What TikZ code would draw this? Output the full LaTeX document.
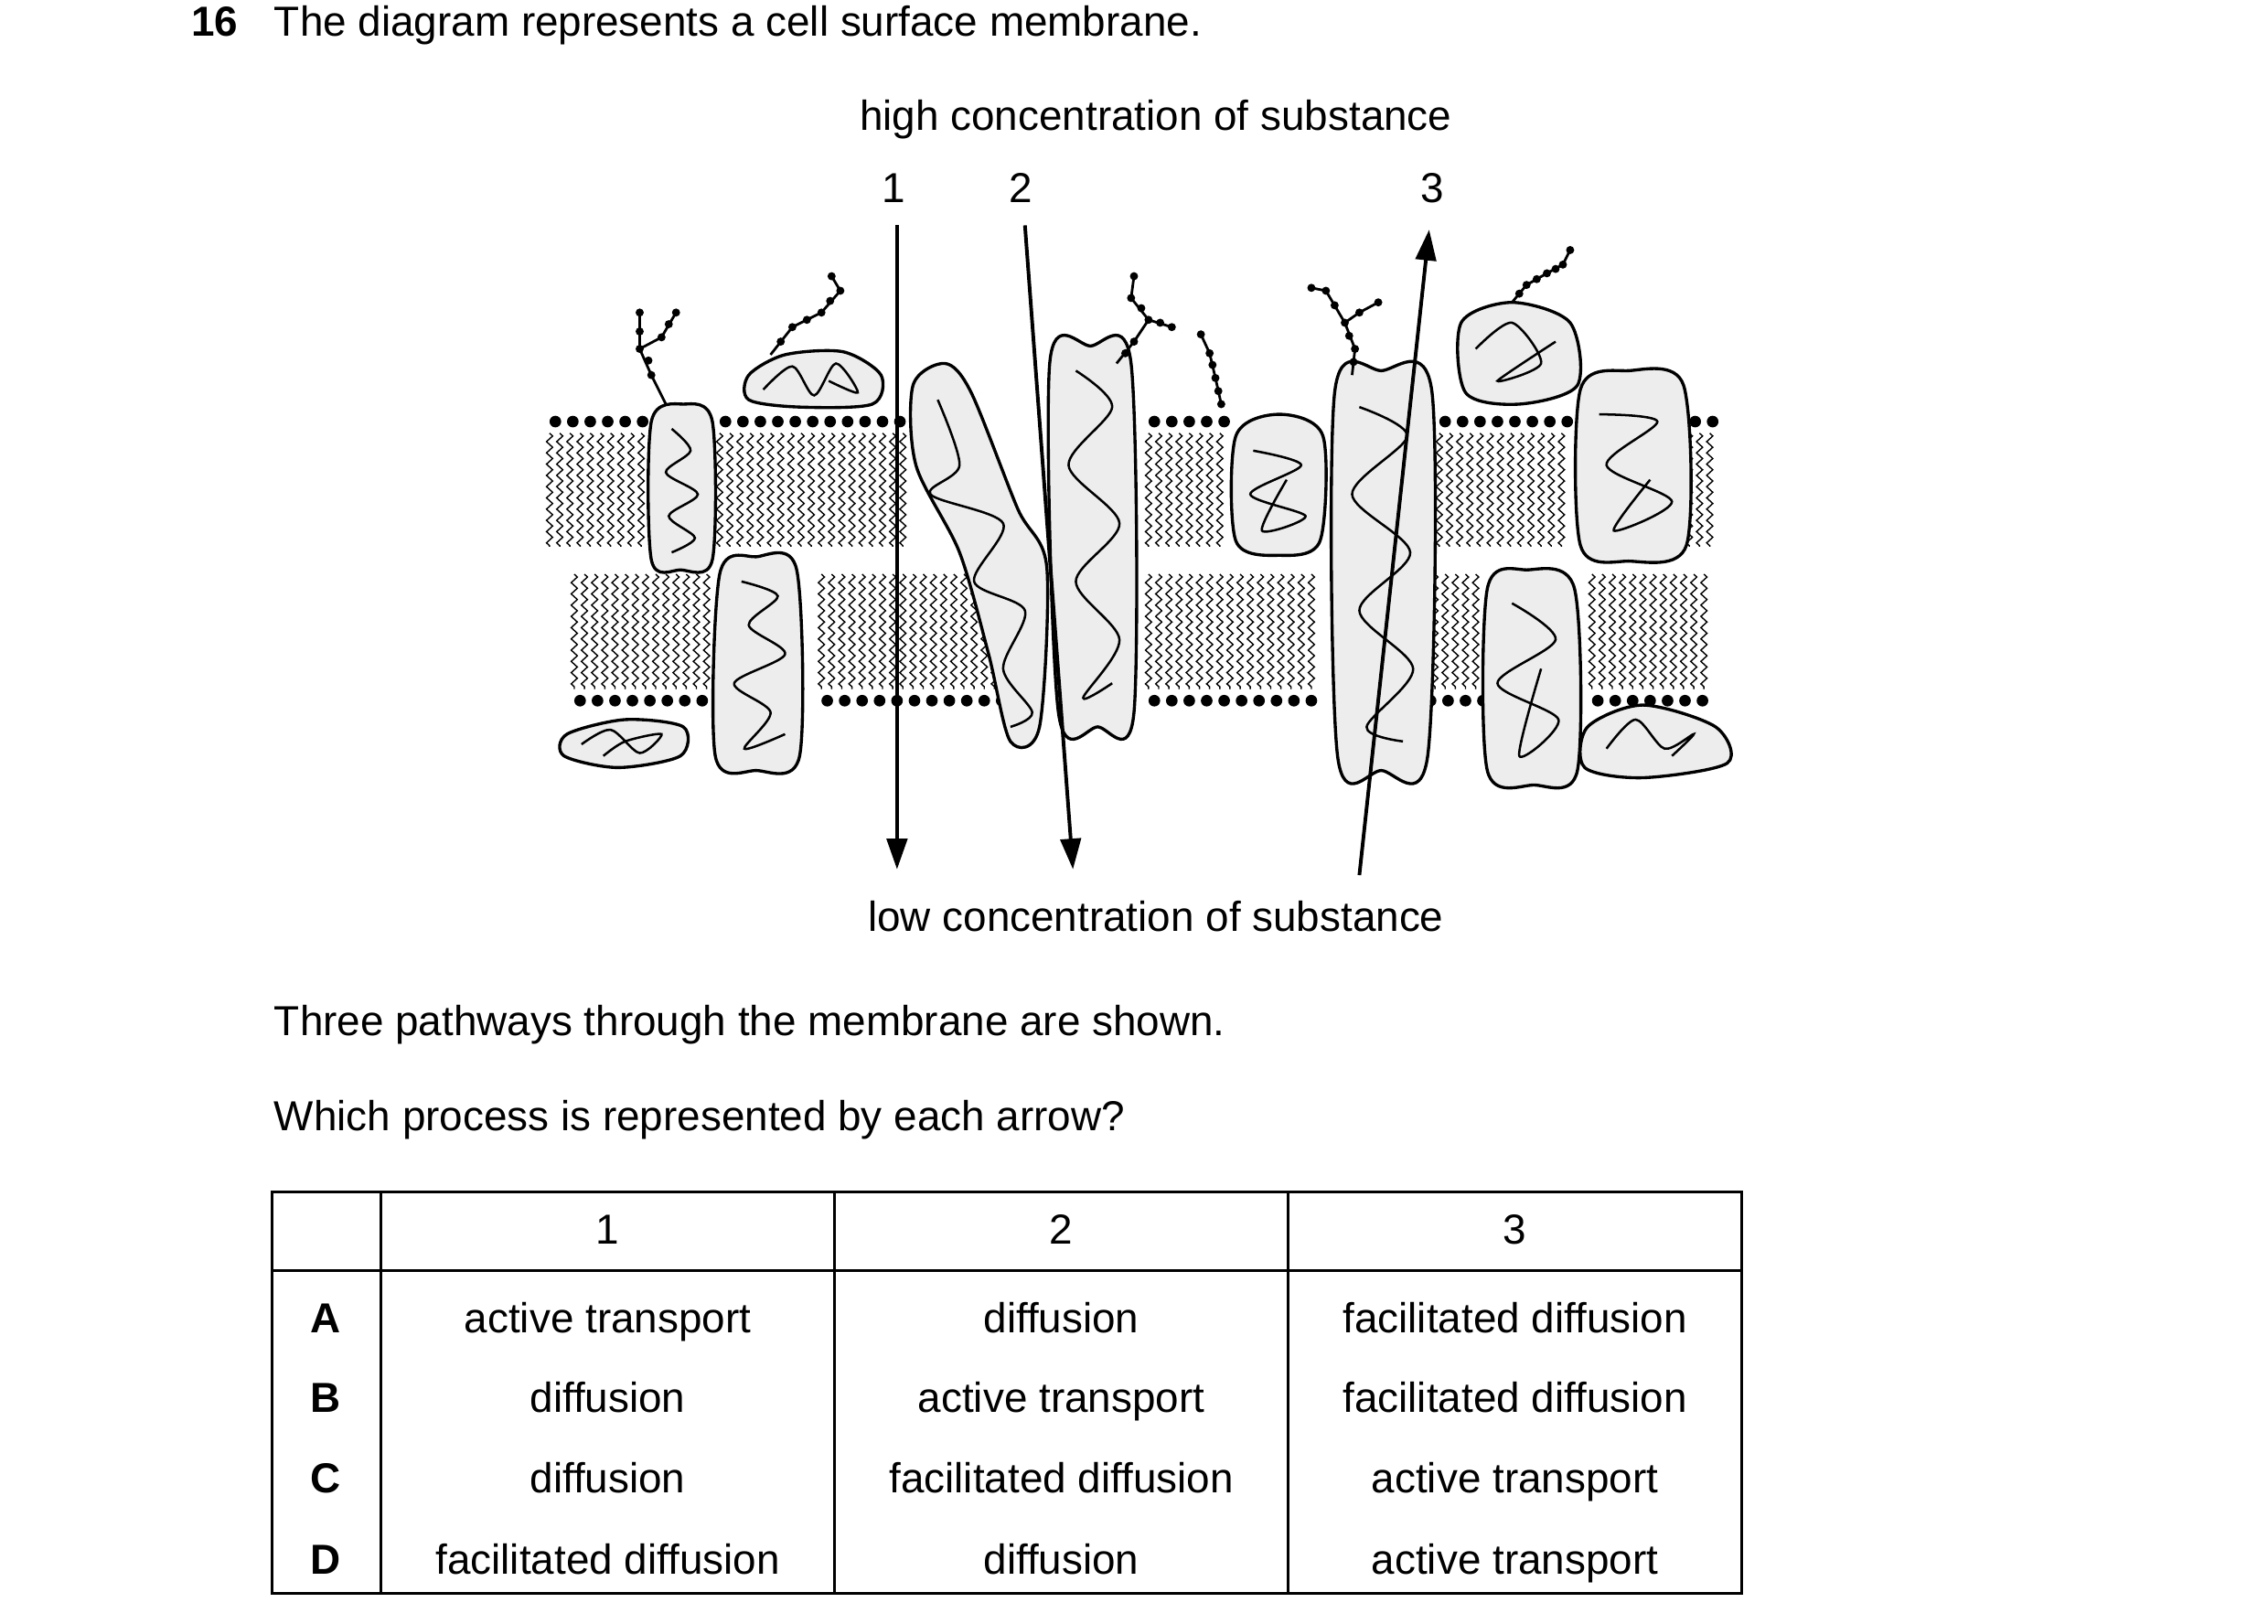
\documentclass[tikz,border=0pt]{standalone}
\usepackage{fontspec}
\setmainfont{Liberation Sans}
\usetikzlibrary{decorations.pathmorphing,arrows.meta}
\begin{document}
\begin{tikzpicture}[x=0.01cm,y=-0.01cm,
  txt/.style={inner sep=0,font=\fontsize{8.2}{10}\selectfont,text height=6pt,text depth=1.7pt},
  prot/.style={line width=0.6pt,fill=black!7},
  sq/.style={line width=0.45pt},
  tail/.style={line width=0.25pt,decorate,decoration={zigzag,amplitude=0.6pt,segment length=2.2pt}},
  arr/.style={line width=0.7pt,-{Triangle[length=6pt,width=4pt]}},
  chain/.style={line width=0.5pt}]
\useasboundingbox (0,0) rectangle (1560,1117);
% header text
\node[txt,anchor=west,font=\fontsize{8.2}{10}\selectfont\bfseries] (q) at (131,17) {16};
\node[txt,anchor=west] (t1) at (188,17) {The diagram represents a cell surface membrane.};
\node[txt] (hi) at (795,82) {high concentration of substance};
\node[txt] (lo) at (795,633) {low concentration of substance};
\node[txt] (n1) at (615,132) {1};
\node[txt] (n2) at (702,132) {2};
\node[txt] (n3) at (985,132) {3};
% lipid tails
\foreach \a/\b in {378/443,495/622,790/842,990/1080,1162/1176}{
  \pgfmathsetmacro\n{int((\b-\a)/7)}
  \foreach \i in {0,...,\n}{\draw[tail] (\a+\i*7,298) -- (\a+\i*7,376);}
  \pgfmathsetmacro\m{int((\b-\a)/12)}
  \foreach \i in {0,...,\m}{\fill (\a+4+\i*12,290) circle (4);}
}
\foreach \a/\b in {395/488,565/685,790/905,980/1020,1095/1178}{
  \pgfmathsetmacro\n{int((\b-\a)/7)}
  \foreach \i in {0,...,\n}{\draw[tail] (\a+\i*7,395) -- (\a+\i*7,474);}
  \pgfmathsetmacro\m{int((\b-\a)/12)}
  \foreach \i in {0,...,\m}{\fill (\a+4+\i*12,482) circle (4);}
}
% proteins
\draw[prot] plot[smooth cycle] coordinates{(448,290)(470,278)(490,290)(490,385)(468,392)(448,385)};
\draw[sq] plot[smooth] coordinates{(462,295)(475,310)(458,325)(480,340)(460,355)(478,370)(462,380)};
\draw[prot] plot[smooth cycle] coordinates{(495,395)(520,383)(548,392)(550,520)(520,530)(492,520)};
\draw[sq] plot[smooth] coordinates{(510,400)(535,410)(515,430)(540,450)(505,470)(530,490)(512,515)(540,505)};
\draw[prot] plot[smooth cycle] coordinates{(390,505)(430,495)(470,500)(468,520)(425,528)(388,520)};
\draw[sq] plot[smooth] coordinates{(400,512)(420,502)(440,518)(455,505)(430,510)(415,520)};
\draw[prot] plot[smooth cycle] coordinates{(515,258)(540,244)(580,242)(606,258)(600,278)(550,280)(515,275)};
\draw[sq] plot[smooth] coordinates{(525,268)(545,252)(560,272)(575,250)(590,270)(570,262)};
\draw[prot] plot[smooth cycle] coordinates{(628,265)(650,250)(668,270)(700,350)(720,390)(715,500)(695,510)(680,450)(660,380)(630,320)};
\draw[sq] plot[smooth] coordinates{(645,275)(660,320)(640,340)(690,360)(670,400)(705,420)(690,460)(710,490)(695,500)};
\draw[prot] plot[smooth cycle] coordinates{(722,250)(750,238)(778,250)(780,490)(755,500)(728,490)};
\draw[sq] plot[smooth] coordinates{(740,255)(765,280)(735,320)(770,360)(740,400)(770,440)(745,480)(765,470)};
\draw[prot] plot[smooth cycle] coordinates{(850,300)(880,285)(910,300)(908,372)(880,382)(850,372)};
\draw[sq] plot[smooth] coordinates{(862,310)(895,320)(860,340)(898,355)(868,365)(885,330)};
\draw[prot] plot[smooth cycle] coordinates{(918,270)(950,255)(985,270)(982,520)(950,530)(920,520)};
\draw[sq] plot[smooth] coordinates{(935,280)(968,300)(930,340)(970,380)(935,420)(972,460)(940,500)(965,510)};
\draw[prot] plot[smooth cycle] coordinates{(1005,222)(1040,208)(1080,222)(1085,265)(1045,278)(1008,270)};
\draw[sq] plot[smooth] coordinates{(1015,240)(1040,222)(1060,250)(1030,262)(1070,235)};
\draw[prot] plot[smooth cycle] coordinates{(1087,268)(1120,255)(1158,265)(1160,375)(1120,386)(1087,375)};
\draw[sq] plot[smooth] coordinates{(1100,285)(1140,290)(1105,320)(1150,345)(1110,365)(1135,330)};
\draw[prot] plot[smooth cycle] coordinates{(1023,405)(1050,392)(1083,405)(1085,530)(1055,540)(1023,530)};
\draw[sq] plot[smooth] coordinates{(1040,415)(1070,440)(1030,470)(1072,495)(1045,520)(1060,460)};
\draw[prot] plot[smooth cycle] coordinates{(1092,500)(1130,485)(1180,500)(1188,525)(1130,535)(1090,528)};
\draw[sq] plot[smooth] coordinates{(1105,515)(1125,495)(1145,515)(1165,505)(1150,520)};
% carbohydrate chains
\draw[chain] (458,278) -- (448,258) -- (440,240) -- (440,215) (440,240) -- (455,232) -- (465,215);
\foreach \x/\y in {448/258,440/240,440/215,455/232,465/215,446/248,440/228,460/223}{\fill (\x,\y) circle (2.8);}
\draw[chain] (530,244) -- (545,225) -- (565,215) -- (578,200) -- (572,190);
\foreach \x/\y in {545/225,565/215,578/200,572/190,537/235,555/220,571/207}{\fill (\x,\y) circle (2.8);}
\draw[chain] (768,250) -- (780,235) -- (790,220) -- (778,205) -- (780,190) (790,220) -- (806,225);
\foreach \x/\y in {780/235,790/220,778/205,780/190,806/225,785/212,798/222,774/243}{\fill (\x,\y) circle (2.8);}
\draw[chain] (840,278) -- (836,260) -- (832,243) -- (826,230);
\foreach \x/\y in {840/278,836/260,832/243,826/230,838/269,834/251}{\fill (\x,\y) circle (2.8);}
\draw[chain] (930,258) -- (932,240) -- (925,222) -- (912,200) -- (902,198) (925,222) -- (935,215) -- (948,208);
\foreach \x/\y in {932/240,925/222,912/200,902/198,935/215,948/208,931/249,918/210,928/231}{\fill (\x,\y) circle (2.8);}
\draw[chain] (1040,208) -- (1050,196) -- (1064,188) -- (1075,182) -- (1080,172);
\foreach \x/\y in {1050/196,1064/188,1075/182,1080/172,1045/202,1057/192,1070/185}{\fill (\x,\y) circle (2.8);}
% arrows
\coordinate (a1s) at (617,155); \coordinate (a1e) at (617,598);
\coordinate (a2s) at (705,155); \coordinate (a2e) at (738,598);
\coordinate (a3s) at (935,602); \coordinate (a3e) at (983,158);
\draw[arr] (a1s) -- (a1e);
\draw[arr] (a2s) -- (a2e);
\draw[arr] (a3s) -- (a3e);
% questions
\node[txt,anchor=west] (t2) at (188,705) {Three pathways through the membrane are shown.};
\node[txt,anchor=west] (t3) at (188,770) {Which process is represented by each arrow?};
% table
\draw[line width=0.6pt] (187,820) rectangle (1198,1096);
\draw[line width=0.6pt] (187,874) -- (1198,874);
\foreach \x in {262,574,886}{\draw[line width=0.6pt] (\x,820) -- (\x,1096);}
\node[txt] (h1) at (418,848) {1};
\node[txt] (h2) at (730,848) {2};
\node[txt] (h3) at (1042,848) {3};
\foreach \y/\L/\a/\b/\c in {909/A/active transport/diffusion/facilitated diffusion,
  964/B/diffusion/active transport/facilitated diffusion,
  1019/C/diffusion/facilitated diffusion/active transport,
  1075/D/facilitated diffusion/diffusion/active transport}{
  \node[txt,font=\fontsize{8.2}{10}\selectfont\bfseries] at (224,\y) {\L};
  \node[txt] at (418,\y) {\a};
  \node[txt] at (730,\y) {\b};
  \node[txt] at (1042,\y) {\c};
}
\end{tikzpicture}
\end{document}
